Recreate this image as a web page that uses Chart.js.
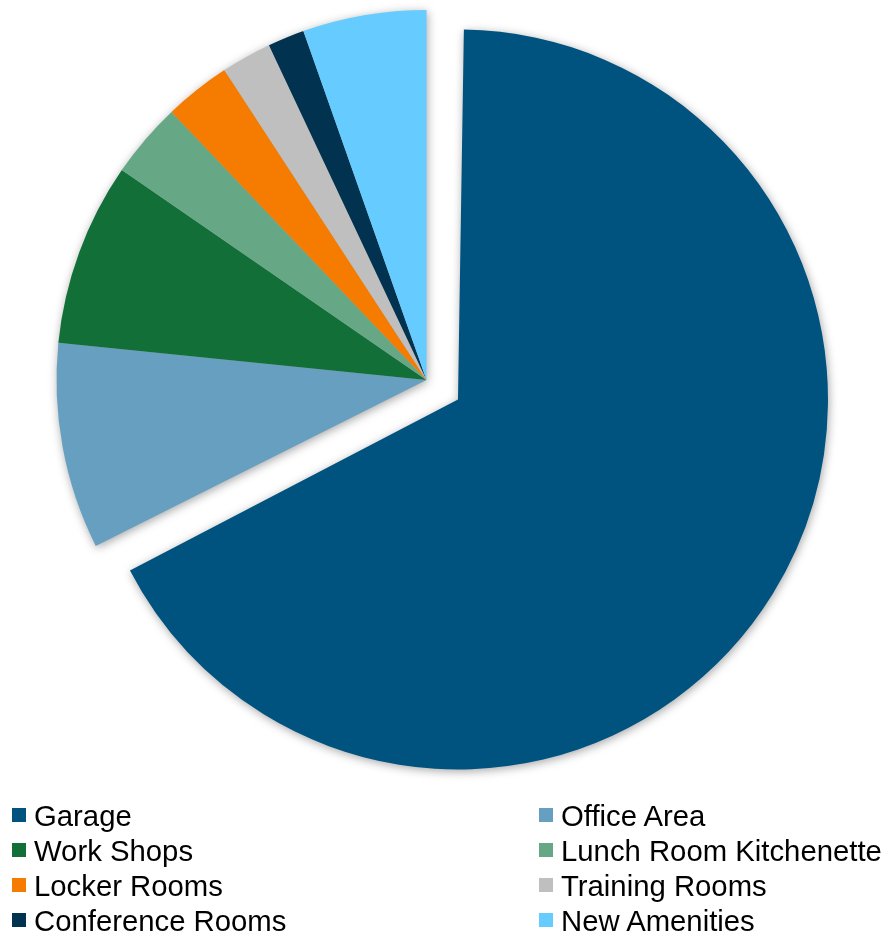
<!DOCTYPE html>
<html>
<head>
<meta charset="utf-8">
<script src="https://cdn.jsdelivr.net/npm/chart.js@4"></script>
<style>
  html, body { margin: 0; padding: 0; background: #fff; }
  #wrap { position: relative; width: 886px; height: 933px; overflow: hidden; }
  #pieBox { position: absolute; left: 0; top: 0; width: 886px; height: 800px; }
  #pieBox canvas { filter: drop-shadow(1px 2px 5px rgba(0,0,0,0.35)); }
  #legend { position: absolute; left: 0; top: 0; width: 886px; height: 933px;
            font-family: "Liberation Sans", Arial, sans-serif; font-size: 29.3px; color: #000; }
  .item { position: absolute; display: flex; align-items: center; height: 35px; line-height: 35px; white-space: nowrap; }
  .swatch { width: 14px; height: 14px; margin-right: 8px; flex: none; }
</style>
</head>
<body>
<div id="wrap">
  <div id="pieBox"><canvas id="spaceChart"></canvas></div>
  <div id="legend"></div>
</div>
<script>
// ==========================
// Data
// ==========================
const areas = ["Garage", "Office Area", "Work Shops", "Lunch Room Kitchenette",
               "Locker Rooms", "Training Rooms", "Conference Rooms", "New Amenities"];
const shares = [67.6, 9.0, 8.0, 3.3, 2.9, 2.2, 1.6, 5.4];
const areaColors = ["#00527F", "#679FC0", "#116F37", "#66A886",
                    "#F57C00", "#BFBFBF", "#01324F", "#66CCFF"];
const explodedSlice = "Garage";

// Chart.js grows big offset slices by offset/4; pull the radius back so
// the exploded slice keeps the same size as the rest
const keepRadius = {
  id: "keepRadius",
  afterDatasetUpdate(chart, args) {
    args.meta.data.forEach(arc => {
      const off = arc.options.offset || 0;
      if (off && arc.circumference >= Math.PI) arc.outerRadius -= off / 4;
    });
  }
};

// ==========================
// Pie
// ==========================
new Chart(document.getElementById("spaceChart"), {
  type: "pie",
  data: {
    labels: areas,
    datasets: [{
      data: shares,
      backgroundColor: areaColors,
      borderWidth: 0,
      offset: areas.map(a => a === explodedSlice ? 148 : 0)
    }]
  },
  options: {
    responsive: true,
    maintainAspectRatio: false,
    animation: false,
    radius: 370,
    layout: { padding: { left: 0, right: 33, top: 0, bottom: 40 } },
    plugins: { legend: { display: false }, tooltip: { enabled: false } }
  },
  plugins: [keepRadius]
});

// ==========================
// Legend (two columns)
// ==========================
const legend = document.getElementById("legend");
areas.forEach((name, i) => {
  const col = i % 2, row = Math.floor(i / 2);
  const item = document.createElement("div");
  item.className = "item";
  item.style.left = (col === 0 ? 12 : 539) + "px";
  item.style.top = (815 - 17.5 + row * 35) + "px";
  item.innerHTML = `<span class="swatch" style="background:${areaColors[i]}"></span><span>${name}</span>`;
  legend.appendChild(item);
});
</script>
</body>
</html>
